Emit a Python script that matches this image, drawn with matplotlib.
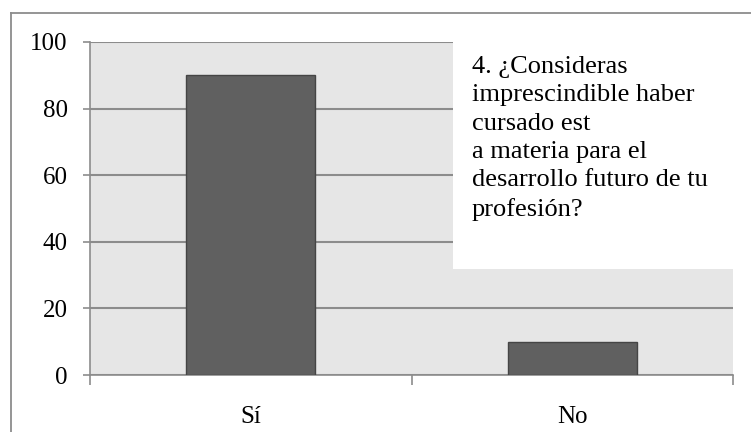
import matplotlib
matplotlib.use("Agg")
import matplotlib.pyplot as plt
from matplotlib.patches import Rectangle
from matplotlib.lines import Line2D

categories = ["Sí", "No"]
values = [90, 10]
yticks = [0, 20, 40, 60, 80, 100]
title_lines = ["4. ¿Consideras", "imprescindible haber", "cursado est",
               "a materia para el", "desarrollo futuro de tu", "profesión?"]

plt.rcParams['font.family'] = ['Liberation Serif', 'DejaVu Serif']
GRAY = "#8c8c8c"

fig = plt.figure(figsize=(7.51, 4.32), dpi=100)
ax = fig.add_axes([90/751, 57/432, 643/751, 333/432])
ax.set_facecolor("#e6e6e6")

x = list(range(len(categories)))
ax.bar(x, values, width=0.4, color="#606060", edgecolor="#454545", linewidth=1.0, zorder=3)

ax.set_xlim(-0.5, len(categories) - 0.5)
ax.set_ylim(0, 100)
ax.set_yticks(yticks)
ax.set_yticklabels([str(v) for v in yticks], fontsize=18)
ax.yaxis.grid(True, color=GRAY, linewidth=1.5, zorder=1)
ax.set_axisbelow(True)

ax.set_xticks(x)
ax.set_xticklabels(categories, fontsize=18)
ax.set_xticks([i - 0.5 for i in range(len(categories) + 1)], minor=True)
ax.tick_params(axis='x', which='major', length=0, pad=22)
ax.tick_params(axis='x', which='minor', length=7, width=1.2, color=GRAY, direction='out')
ax.tick_params(axis='y', which='major', length=5, width=1.2, color=GRAY, pad=11)

for s in ['top', 'right']:
    ax.spines[s].set_visible(False)
for s in ['left', 'bottom']:
    ax.spines[s].set_color(GRAY)
    ax.spines[s].set_linewidth(1.2)

# white title box inside the plot
ax.add_patch(Rectangle((0.5645, 0.318), 0.4355, 0.69, transform=ax.transAxes,
                       facecolor="white", edgecolor="none", zorder=4, clip_on=False))
ax.text((472-90)/643, (375-56)/333, "\n".join(title_lines), transform=ax.transAxes,
        ha='left', va='top', fontsize=19, linespacing=1.375, zorder=5)

# outer border (top and left only visible)
fig.add_artist(Line2D([11/751, 1.0], [1-13/432, 1-13/432], transform=fig.transFigure,
                      color=GRAY, linewidth=1.3))
fig.add_artist(Line2D([11/751, 11/751], [0, 1-13/432], transform=fig.transFigure,
                      color=GRAY, linewidth=1.3))

fig.savefig("out.png", dpi=100)
